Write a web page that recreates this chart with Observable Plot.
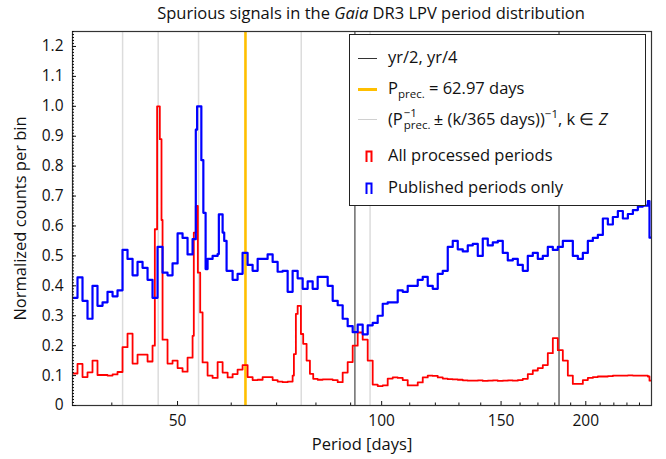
<!DOCTYPE html>
<html><head><meta charset="utf-8">
<script src="https://cdn.jsdelivr.net/npm/d3@7"></script>
<script src="https://cdn.jsdelivr.net/npm/@observablehq/plot@0.6"></script>
<style>
body{margin:0;background:#fff;font-family:"Open Sans",Lato,sans-serif;color:#111;overflow:hidden;}
#wrap{position:relative;width:666px;height:459px;}
#title{position:relative;height:26px;}
#title span{position:absolute;left:371px;top:3px;transform:translateX(-50%);white-space:nowrap;font-size:16.5px;line-height:20px;}
#legend{position:absolute;left:349px;top:34px;width:297px;height:172px;background:#fff;border:1px solid #222;box-sizing:border-box;font-size:16.5px;}
.row{position:absolute;left:0;height:0;width:100%;}
.sw{position:absolute;left:8px;width:19px;top:0;height:0;}
.lt{position:absolute;left:38px;top:0;transform:translateY(-54%);white-space:nowrap;line-height:1.2;}
.ic{position:absolute;left:15px;top:-6px;}
.ss{display:inline-block;position:relative;width:31px;height:1em;vertical-align:baseline;}
.ss .a{position:absolute;left:1px;top:-1px;font-size:11.5px;line-height:11px;}
.ss .b{position:absolute;left:1px;top:10.5px;font-size:11.5px;line-height:11px;}
sub{font-size:11.5px;vertical-align:-4px;line-height:0;}
sup{font-size:11.5px;vertical-align:7px;line-height:0;}
</style>
</head><body>
<div id="wrap">
<div id="title"><span>Spurious signals in the <i>Gaia</i> DR3 LPV period distribution</span></div>
<div id="chart"></div>
<div id="legend">
  <div class="row" style="top:23px"><span class="sw" style="border-top:1.3px solid #333"></span><span class="lt">yr/2, yr/4</span></div>
  <div class="row" style="top:54px"><span class="sw" style="border-top:3px solid #ffbf00;top:-1px"></span><span class="lt">P<sub>prec.</sub> = 62.97 days</span></div>
  <div class="row" style="top:84px"><span class="sw" style="border-top:1.5px solid #d0d0d0"></span><span class="lt">(P<span class="ss"><span class="a">−1</span><span class="b">prec.</span></span>± (k/365 days))<sup>−1</sup>, k ∈ <i>Z</i></span></div>
  <div class="row" style="top:121px"><svg class="ic" width="8" height="12"><path d="M1.5,12V1.5H6.5V12" fill="none" stroke="#ff0000" stroke-width="2"/></svg><span class="lt">All processed periods</span></div>
  <div class="row" style="top:153px"><svg class="ic" width="8" height="12"><path d="M1.5,12V1.5H6.5V12" fill="none" stroke="#0000ff" stroke-width="2"/></svg><span class="lt">Published periods only</span></div>
</div>
</div>
<script>
// Reference lines (periods in days)
const yearFractionPeriods = [182.625, 91.3125];      // yr/2, yr/4
const precessionPeriod = [62.97];                    // P_prec.
const aliasPeriods = [41.49, 46.82, 53.70, 76.10, 96.14];

// Tick values
const xMajorTicks = [50, 100, 150, 200];
const xMinorTicks = [40, 60, 70, 80, 90, 110, 120, 130, 140, 160, 170, 180, 190, 210, 220, 230, 240];
const yMajorTicks = [0, 0.1, 0.2, 0.3, 0.4, 0.5, 0.6, 0.7, 0.8, 0.9, 1.0, 1.1, 1.2];

// All processed periods (red): bin start period, normalized count
const redPeriods = [35.00,35.60,36.21,36.83,37.46,38.10,38.76,39.42,40.10,40.78,41.48,42.19,42.92,43.65,44.40,45.16,45.93,46.29,46.65,47.08,47.35,47.52,48.33,49.16,50.01,50.86,51.73,52.62,52.84,53.20,53.57,54.00,54.44,55.37,56.32,57.29,58.27,59.27,60.28,61.31,62.36,63.43,64.52,65.63,66.75,67.89,69.06,70.24,71.44,72.67,73.91,74.23,74.73,75.18,76.02,76.61,77.50,78.38,79.26,80.47,81.85,83.25,84.68,86.13,87.60,89.10,90.63,92.18,93.76,95.37,97.00,98.66,100.36,102.07,103.82,105.60,107.41,109.25,111.12,113.03,114.97,116.93,118.94,120.98,123.05,125.16,127.30,129.48,131.70,133.96,136.25,138.59,140.96,143.38,145.84,148.34,150.87,153.46,156.09,158.76,161.49,164.25,167.07,169.93,172.84,175.80,178.82,181.88,185.00,188.17,191.39,194.67,198.01,201.40,204.85,208.36,211.93,215.56,219.25,223.01,226.83,230.72,234.68,238.69,242.79,246.95,248.30,251.18];
const redValues = [0.107,0.139,0.095,0.111,0.150,0.102,0.102,0.100,0.104,0.112,0.195,0.240,0.140,0.170,0.170,0.147,0.200,0.589,1.000,0.890,0.620,0.220,0.140,0.150,0.125,0.113,0.160,0.233,0.578,0.667,0.444,0.311,0.144,0.100,0.092,0.145,0.110,0.094,0.105,0.120,0.135,0.095,0.085,0.086,0.095,0.095,0.085,0.080,0.078,0.080,0.100,0.172,0.306,0.333,0.239,0.206,0.150,0.106,0.089,0.086,0.087,0.087,0.085,0.078,0.110,0.145,0.200,0.244,0.220,0.150,0.070,0.065,0.067,0.090,0.094,0.092,0.085,0.067,0.067,0.077,0.094,0.100,0.099,0.094,0.090,0.088,0.087,0.086,0.084,0.083,0.083,0.084,0.082,0.083,0.084,0.082,0.083,0.084,0.083,0.085,0.089,0.105,0.117,0.125,0.135,0.175,0.225,0.185,0.150,0.100,0.072,0.072,0.085,0.092,0.095,0.097,0.097,0.098,0.100,0.100,0.100,0.101,0.100,0.100,0.100,0.097,0.083,0.083];

// Published periods only (blue)
const bluePeriods = [35.00,35.60,36.21,36.83,37.46,38.10,38.76,39.42,40.10,40.78,41.48,42.19,42.92,43.65,44.40,45.16,45.93,46.72,47.52,48.33,49.16,50.01,50.86,51.73,52.62,53.20,53.44,54.21,54.58,55.00,55.37,56.32,57.29,57.53,58.27,58.59,59.06,60.28,61.31,62.36,63.43,64.52,65.63,66.75,67.89,69.06,70.24,71.44,72.67,73.91,75.18,76.47,77.78,79.11,80.47,81.85,83.25,84.68,86.13,87.60,89.10,90.63,92.18,93.76,95.37,97.00,98.66,100.36,102.07,103.82,105.60,107.41,109.25,111.12,113.03,114.97,116.93,118.94,120.98,123.05,125.16,127.30,129.48,131.70,133.96,136.25,138.59,140.96,143.38,145.84,148.34,150.87,153.46,156.09,158.76,161.49,164.25,167.07,169.93,172.84,175.80,178.82,181.88,185.00,188.17,191.39,194.67,198.01,201.40,204.85,208.36,211.93,215.56,219.25,223.01,226.83,230.72,234.68,238.69,242.79,246.95,248.30,251.18];
const blueValues = [0.360,0.428,0.350,0.290,0.400,0.333,0.345,0.380,0.365,0.385,0.520,0.490,0.435,0.480,0.460,0.420,0.360,0.530,0.444,0.435,0.475,0.575,0.560,0.505,0.556,0.922,1.000,0.820,0.644,0.456,0.490,0.500,0.506,0.639,0.578,0.550,0.450,0.420,0.440,0.510,0.470,0.450,0.490,0.490,0.505,0.480,0.447,0.450,0.380,0.450,0.425,0.390,0.415,0.390,0.430,0.430,0.400,0.350,0.335,0.290,0.265,0.245,0.270,0.238,0.268,0.276,0.300,0.340,0.345,0.345,0.385,0.380,0.400,0.400,0.420,0.430,0.400,0.390,0.440,0.450,0.530,0.550,0.522,0.515,0.535,0.540,0.500,0.558,0.535,0.545,0.550,0.510,0.485,0.490,0.470,0.450,0.500,0.510,0.490,0.500,0.530,0.520,0.530,0.550,0.550,0.500,0.490,0.510,0.550,0.560,0.570,0.625,0.605,0.630,0.650,0.625,0.640,0.653,0.665,0.668,0.683,0.561,0.561];

const red = redPeriods.map((p, i) => ({p, v: redValues[i]}));
const blue = bluePeriods.map((p, i) => ({p, v: blueValues[i]}));
const yMinorTicks = d3.range(0, 126).map(i => i / 100);

const font = "'Open Sans', Lato, sans-serif";
const chart = Plot.plot({
  width: 666,
  height: 433,
  marginLeft: 72,
  marginRight: 15,
  marginTop: 5,
  marginBottom: 54,
  style: {fontFamily: font, fontSize: "15.5px", color: "#111", background: "white"},
  x: {type: "log", domain: [35, 250]},
  y: {domain: [0, 1.25]},
  marks: [
    Plot.ruleX(aliasPeriods, {stroke: "#dcdcdc", strokeWidth: 1.5}),
    Plot.ruleX(yearFractionPeriods, {stroke: "#555", strokeWidth: 1.3}),
    Plot.ruleX(precessionPeriod, {stroke: "#ffbf00", strokeWidth: 2.6}),
    Plot.line(red, {x: "p", y: "v", curve: "step-after", stroke: "#ff0000", strokeWidth: 1.8, clip: true}),
    Plot.line(blue, {x: "p", y: "v", curve: "step-after", stroke: "#0000ff", strokeWidth: 2.2, clip: true}),
    Plot.frame({stroke: "#333", strokeWidth: 1.2}),
    Plot.axisX(xMajorTicks, {tickSize: -4, tickPadding: 13, tickFormat: d => String(d), label: null, fontSize: 15.5}),
    Plot.axisX(xMinorTicks, {tickSize: -2.5, fill: "none", label: null}),
    Plot.axisY(yMajorTicks, {tickSize: -4, tickPadding: 13, tickFormat: d => d === 0 ? "0" : d.toFixed(1), label: null, fontSize: 15.5}),
    Plot.axisY(yMinorTicks, {tickSize: -2, fill: "none", label: null}),
    Plot.text(["Period [days]"], {frameAnchor: "bottom", dy: 39, lineAnchor: "middle", textAnchor: "middle", fontSize: 16.5}),
    Plot.text(["Normalized counts per bin"], {frameAnchor: "left", rotate: -90, dx: -52, lineAnchor: "middle", textAnchor: "middle", fontSize: 16.5})
  ]
});
document.getElementById("chart").appendChild(chart);
</script>
</body></html>
